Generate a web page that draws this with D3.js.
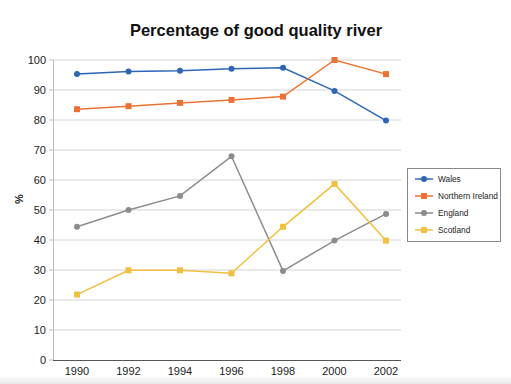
<!DOCTYPE html>
<html><head><meta charset="utf-8">
<script src="https://cdn.jsdelivr.net/npm/d3@7/dist/d3.min.js"></script>
<style>body{margin:0;background:#fff}svg{display:block;font-family:"Liberation Sans",Arial,sans-serif}</style>
</head><body>
<svg id="c" width="511" height="384"></svg>
<script>
const years = ["1990","1992","1994","1996","1998","2000","2002"];
const yTicks = [0,10,20,30,40,50,60,70,80,90,100];
const seriesNames = ["Wales","Northern Ireland","England","Scotland"];
const wales = [95.3,96.2,96.4,97.1,97.4,89.7,79.8];
const northernIreland = [83.6,84.6,85.7,86.7,87.8,100,95.3];
const england = [44.4,50,54.7,67.9,29.7,39.8,48.7];
const scotland = [21.8,29.9,29.9,28.9,44.4,58.7,39.8];

(function(){
const colors = ["#2e66b5","#ec7234","#8c8c8c","#f2c040"];
const shapes = ["circle","square","circle","square"];
const data = [wales, northernIreland, england, scotland];

const svg = d3.select("#c");
const pl = 53, pr = 401, pt = 60, pb = 360;

const defs = svg.append("defs");
const g1 = defs.append("linearGradient").attr("id","bg").attr("x1",0).attr("y1",0).attr("x2",0).attr("y2",1);
g1.append("stop").attr("offset","0").attr("stop-color","#ffffff");
g1.append("stop").attr("offset","1").attr("stop-color","#e8e8e8");
svg.append("rect").attr("x",0).attr("y",376).attr("width",511).attr("height",8).attr("fill","url(#bg)");

const x = d3.scalePoint().domain(years).range([77, 386]);
const y = d3.scaleLinear().domain([0,100]).range([pb, pt]);

svg.append("g").selectAll("line").data(yTicks.filter(d=>d>0)).join("line")
  .attr("x1",pl).attr("x2",pr).attr("y1",d=>y(d)).attr("y2",d=>y(d))
  .attr("stroke","#d4d4d4").attr("stroke-width",1);

svg.append("g").selectAll("line").data(yTicks).join("line")
  .attr("x1",pl-4).attr("x2",pl).attr("y1",d=>y(d)).attr("y2",d=>y(d))
  .attr("stroke","#bbb").attr("stroke-width",1);

svg.append("g").selectAll("text").data(yTicks).join("text")
  .attr("x",46).attr("y",d=>y(d)+4).attr("text-anchor","end")
  .attr("font-size",11).attr("fill","#222").text(d=>d);

svg.append("line").attr("x1",pl+0.5).attr("x2",pl+0.5).attr("y1",pt).attr("y2",pb).attr("stroke","#bbb");
svg.append("line").attr("x1",pl).attr("x2",pr).attr("y1",pb+0.5).attr("y2",pb+0.5).attr("stroke","#555");

svg.append("g").selectAll("text").data(years).join("text")
  .attr("x",d=>x(d)).attr("y",375).attr("text-anchor","middle")
  .attr("font-size",11).attr("fill","#222").text(d=>d);

svg.append("text").attr("x",256).attr("y",36).attr("text-anchor","middle")
  .attr("font-size",16.5).attr("font-weight","bold").attr("fill","#111")
  .text("Percentage of good quality river");

svg.append("text").attr("transform","translate(23,199) rotate(-90)")
  .attr("text-anchor","middle").attr("font-size",11).attr("font-weight","bold").attr("fill","#222").text("%");

const line = d3.line().x((d,i)=>x(years[i])).y(d=>y(d));

function marker(sel, shape, color, cx, cy){
  if(shape==="circle") sel.append("circle").attr("cx",cx).attr("cy",cy).attr("r",3).attr("fill",color);
  else sel.append("rect").attr("x",cx-3).attr("y",cy-3).attr("width",6).attr("height",6).attr("fill",color);
}

data.forEach((vals,k)=>{
  const g = svg.append("g");
  g.append("path").datum(vals).attr("d",line).attr("fill","none")
    .attr("stroke",colors[k]).attr("stroke-width",1.5);
  vals.forEach((v,i)=>marker(g, shapes[k], colors[k], x(years[i]), y(v)));
});

const lg = svg.append("g");
lg.append("rect").attr("x",407.5).attr("y",168.5).attr("width",93).attr("height",73)
  .attr("fill","#fff").attr("stroke","#8a8a8a").attr("stroke-width",1);
seriesNames.forEach((n,k)=>{
  const ly = 179 + k*17;
  lg.append("line").attr("x1",415).attr("x2",433).attr("y1",ly).attr("y2",ly)
    .attr("stroke",colors[k]).attr("stroke-width",1.5);
  marker(lg, shapes[k], colors[k], 424, ly);
  lg.append("text").attr("x",438).attr("y",ly+3).attr("font-size",8.3).attr("fill","#222").text(n);
});
})();
</script>
</body></html>
